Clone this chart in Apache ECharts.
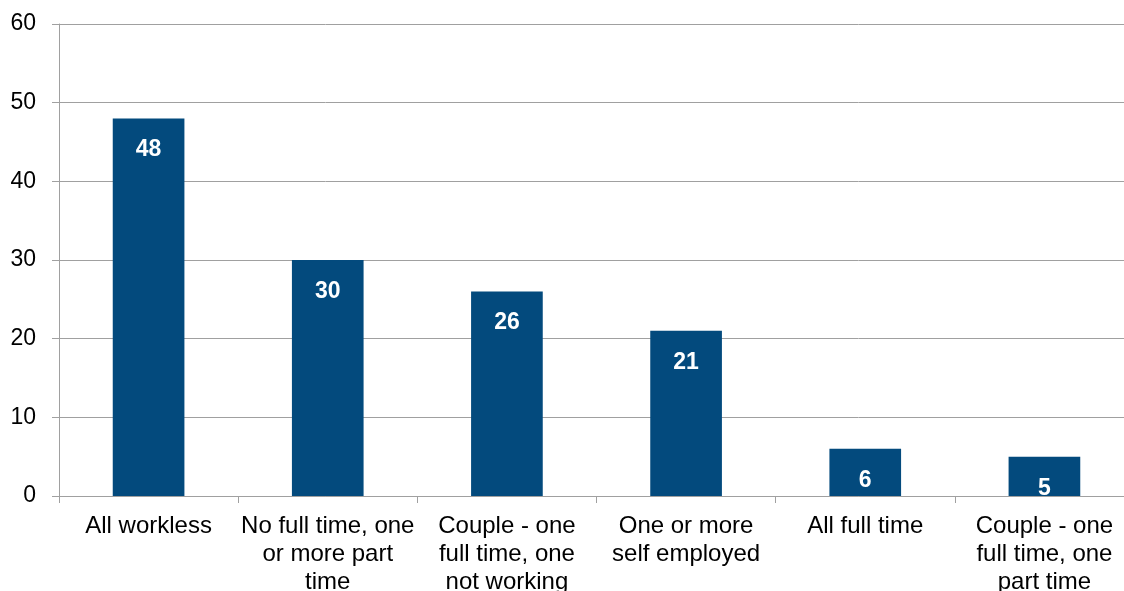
<!DOCTYPE html>
<html>
<head>
<meta charset="utf-8">
<script src="https://cdn.jsdelivr.net/npm/echarts@6/dist/echarts.min.js"></script>
<style>
  html, body { margin: 0; padding: 0; background: #fff; }
  #chart { width: 1124px; height: 591px; }
</style>
</head>
<body>
<div id="chart"></div>
<script>
// Household working status categories (line breaks as displayed)
const categories = [
  'All workless',
  'No full time, one\nor more part\ntime',
  'Couple - one\nfull time, one\nnot working',
  'One or more\nself employed',
  'All full time',
  'Couple - one\nfull time, one\npart time'
];
const values = [48, 30, 26, 21, 6, 5];
const yTicks = { min: 0, max: 60, interval: 10 };

const FONT = 'Liberation Sans, Arial, sans-serif';
const chart = echarts.init(document.getElementById('chart'));
chart.setOption({
  animation: false,
  grid: {
    left: 59, top: 24, width: 1075, height: 472,
    containLabel: false,
    outerBoundsMode: 'none'
  },
  xAxis: {
    type: 'category',
    data: categories,
    boundaryGap: true,
    axisLine: { lineStyle: { color: '#a0a0a0', width: 1 } },
    axisTick: { show: true, length: 7, alignWithLabel: false, lineStyle: { color: '#a0a0a0' } },
    axisLabel: {
      interval: 0,
      margin: 16,
      color: '#000',
      fontFamily: FONT,
      fontSize: 24,
      lineHeight: 28,
      align: 'center'
    }
  },
  yAxis: {
    type: 'value',
    min: yTicks.min,
    max: yTicks.max,
    interval: yTicks.interval,
    axisLine: { show: true, lineStyle: { color: '#a0a0a0', width: 1 } },
    axisTick: { show: true, length: 7, lineStyle: { color: '#a0a0a0' } },
    splitLine: { lineStyle: { color: '#a0a0a0', width: 1 } },
    axisLabel: {
      margin: 23,
      color: '#000',
      fontFamily: FONT,
      fontSize: 23
    }
  },
  series: [{
    type: 'bar',
    data: values,
    barWidth: '40%',
    itemStyle: { color: '#034a7d' },
    label: {
      show: true,
      position: 'insideTop',
      distance: 20,
      color: '#fff',
      fontWeight: 'bold',
      fontFamily: FONT,
      fontSize: 23
    }
  }]
});
</script>
</body>
</html>
